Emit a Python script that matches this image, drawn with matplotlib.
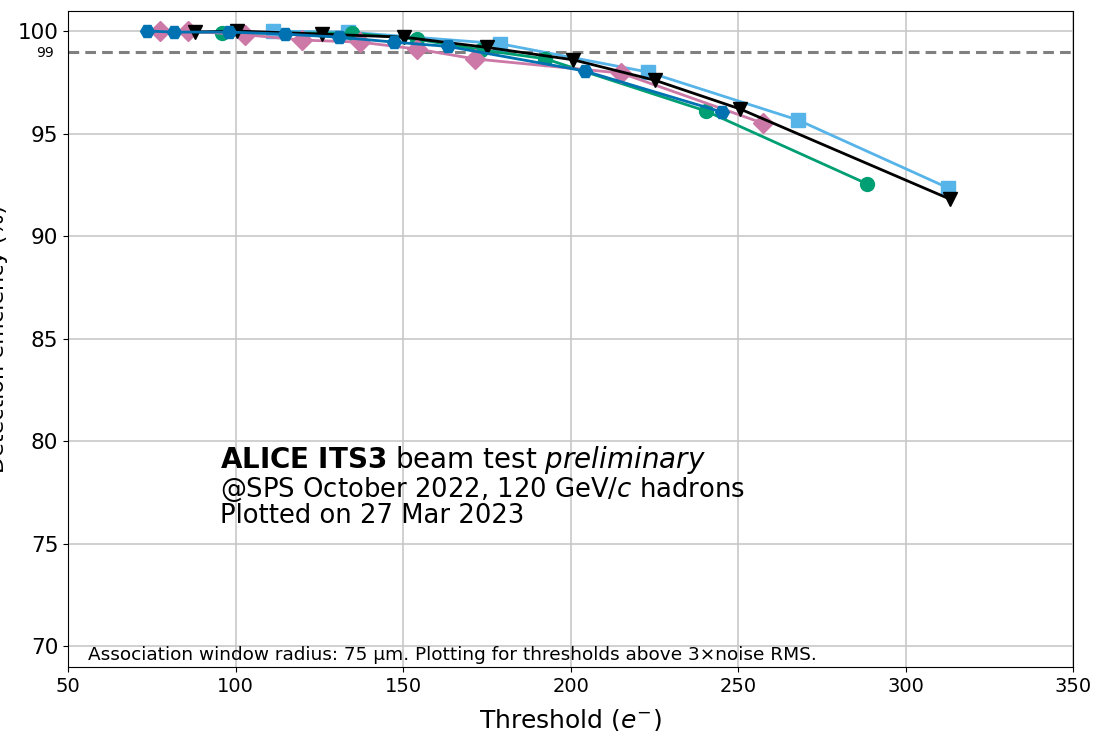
import matplotlib.pyplot as plt

# Detection efficiency vs. threshold, one series per sensor setting
thr_lightblue = [111.2, 133.6, 179.0, 223.1, 267.9, 312.7]
eff_lightblue = [100.0, 99.95, 99.38, 98.0, 95.66, 92.35]

thr_green = [96.0, 134.8, 154.2, 173.3, 192.4, 240.4, 288.5]
eff_green = [99.9, 99.9, 99.6, 99.08, 98.65, 96.1, 92.55]

thr_pink = [77.5, 85.8, 102.8, 119.9, 137.2, 154.2, 171.5, 215.1, 257.5]
eff_pink = [100.0, 100.0, 99.82, 99.56, 99.46, 99.12, 98.64, 97.95, 95.5]

thr_black = [87.9, 100.4, 125.8, 150.3, 175.1, 200.7, 225.2, 250.6, 313.3]
eff_black = [99.95, 100.0, 99.85, 99.7, 99.2, 98.6, 97.6, 96.2, 91.8]

thr_blue = [73.6, 81.6, 98.1, 114.8, 130.9, 147.3, 163.4, 204.3, 245.2]
eff_blue = [100.0, 99.95, 99.95, 99.85, 99.7, 99.46, 99.25, 98.05, 96.05]

x_ticks = [50, 100, 150, 200, 250, 300, 350]
y_ticks = [70, 75, 80, 85, 90, 95, 100]
target_eff = 99

fig = plt.figure(figsize=(10.95, 7.31), dpi=100)
ax = fig.add_axes([0.0621, 0.0876, 0.918, 0.898])

style = dict(lw=2, ms=10)
ax.plot(thr_lightblue, eff_lightblue, marker="s", color="#56B4E9", **style)
ax.plot(thr_green, eff_green, marker="o", color="#009E73", **style)
ax.plot(thr_pink, eff_pink, marker="D", color="#CC79A7", **style)
ax.plot(thr_black, eff_black, marker="v", color="black", **style)
ax.plot(thr_blue, eff_blue, marker="H", color="#0072B2", **style)

ax.axhline(target_eff, color="gray", ls="--", lw=2.2, dashes=(3.5, 2), zorder=1)

ax.set_xlim(50, 350)
ax.set_ylim(69, 101)
ax.set_xticks(x_ticks)
ax.set_yticks(y_ticks)
ax.set_yticks([target_eff], labels=[str(target_eff)], minor=True)
ax.tick_params(axis="x", which="major", labelsize=14)
ax.tick_params(axis="y", which="major", labelsize=15.5)
ax.tick_params(axis="y", which="minor", labelsize=10, length=0, pad=10)
ax.grid(True, which="major", color="#c8c8c8", lw=1.2)
ax.set_axisbelow(True)

ax.set_xlabel("Threshold ($e^{-}$)", fontsize=18, labelpad=8)
ax.set_ylabel("Detection efficiency (%)", fontsize=16)
ax.yaxis.set_label_coords(-0.06, 0.5)

# preliminary stamp
ax.text(0.151, 0.3025, r"$\bf{ALICE\ ITS3}$ beam test $\it{preliminary}$",
        transform=ax.transAxes, fontsize=20, va="baseline")
ax.text(0.151, 0.259, r"@SPS October 2022, 120 GeV/$\it{c}$ hadrons",
        transform=ax.transAxes, fontsize=18.6, va="baseline")
ax.text(0.151, 0.220, "Plotted on 27 Mar 2023",
        transform=ax.transAxes, fontsize=18.6, va="baseline")
ax.text(0.02, 0.004, "Association window radius: 75 µm. Plotting for thresholds above 3×noise RMS.",
        transform=ax.transAxes, fontsize=13.3, va="bottom")

fig.savefig("out.png", dpi=100)
